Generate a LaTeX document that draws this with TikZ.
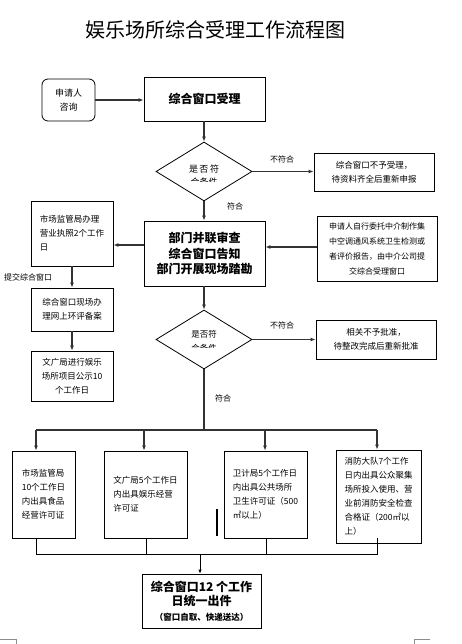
\documentclass[tikz,border=0pt]{standalone}
\usepackage{fontspec}
\setmainfont{Noto Sans CJK SC}
\usetikzlibrary{shapes.geometric,arrows.meta}
\begin{document}
\begin{tikzpicture}[x=1pt,y=-1pt,
  box/.style={draw,line width=0.8pt,inner sep=0pt,align=center},
  sbox/.style={box,font=\fontsize{8.5}{14}\selectfont},
  bbox/.style={box,font=\bfseries\fontsize{12}{15.5}\selectfont},
  conn/.style={draw=black!80,line width=1.1pt},
  arr/.style={conn,-{Latex[length=5pt,width=4pt]}},
  lbl/.style={font=\fontsize{8}{10}\selectfont,inner sep=0pt},
  dia/.style={draw,diamond,line width=0.8pt,inner sep=0pt,minimum width=96pt,minimum height=59pt},
  cornermark/.style={draw=black!45,line width=0.4pt}
]
\useasboundingbox (0,0) rectangle (462,644);
\node (title) at (215,30) {\fontsize{20}{20}\selectfont 娱乐场所综合受理工作流程图};

\node[box,rounded corners=6pt,minimum width=53pt,minimum height=42pt,font=\fontsize{9}{14}\selectfont] (ask) at (68.5,100) {申请人\\咨询};
\node[bbox,minimum width=121pt,minimum height=44pt] (recv) at (204.5,99) {综合窗口受理};
\node[dia] (d1) at (204,171.5) {};
\begin{scope}
  \clip (150,140) rectangle (260,181.5);
  \node[align=center,inner sep=0pt,font=\fontsize{9}{13}\selectfont] (d1t) at (204,176) {是\,否\,符\\合条件};
\end{scope}
\node[sbox,minimum width=120pt,minimum height=38pt] (rej1) at (374,172) {综合窗口不予受理，\\待资料齐全后重新申报};

\node[bbox,minimum width=121pt,minimum height=65pt] (box2) at (204.5,253.5) {部门并联审查\\综合窗口告知\\部门开展现场踏勘};
\node[sbox,align=left,minimum width=82pt,minimum height=65pt] (A) at (72,233.5) {市场监管局办理\\营业执照2个工作\\日};
\node[sbox,minimum width=120pt,minimum height=65pt,font=\fontsize{8}{15}\selectfont] (B) at (377,248.5) {申请人自行委托中介制作集\\中空调通风系统卫生检测或\\者评价报告，由中介公司提\\交综合受理窗口};
\node[sbox,minimum width=82pt,minimum height=43pt] (C) at (72,309.5) {综合窗口现场办\\理网上环评备案};
\node[sbox,minimum width=82pt,minimum height=50pt] (D) at (72,376) {文广局进行娱乐\\场所项目公示10\\个工作日};

\node[dia] (d2) at (204,339.5) {};
\begin{scope}
  \clip (150,300) rectangle (260,347.5);
  \node[align=center,inner sep=0pt,font=\fontsize{8.5}{13.5}\selectfont] (d2t) at (204,341.5) {是否符\\合条件};
\end{scope}
\node[sbox,minimum width=120pt,minimum height=39pt] (rej2) at (376,339.5) {相关不予批准，\\待整改完成后重新批准};

\node[sbox,align=left,minimum width=63pt,minimum height=87pt] (F) at (43.5,494.5) {市场监管局\\10个工作日\\内出具食品\\经营许可证};
\node[sbox,align=left,minimum width=83pt,minimum height=87pt] (G) at (145.5,494.5) {文广局5个工作日\\内出具娱乐经营\\许可证};
\node[sbox,align=left,minimum width=83pt,minimum height=87pt] (H) at (265.5,494.5) {卫计局5个工作日\\内出具公共场所\\卫生许可证（500\\㎡以上）};
\node[sbox,align=left,minimum width=85pt,minimum height=93pt] (I) at (378.5,496.5) {消防大队7个工作\\日内出具公众聚集\\场所投入使用、营\\业前消防安全检查\\合格证（200㎡以\\上）};

\node[box,minimum width=119pt,minimum height=54pt,font=\bfseries\fontsize{12}{14}\selectfont] (J) at (201.5,601) {综合窗口12 个工作\\日统一出件\\[1pt]\fontsize{8.5}{11}\selectfont （窗口自取、快递送达）};

% connectors
\draw[arr] (ask.east) -- (ask.east -| recv.west);
\draw[arr] (recv.south -| d1.north) -- (d1.north);
\draw[arr] (d1.east) -- (d1.east -| rej1.west);
\node[lbl] (l1) at (282,159) {不符合};
\draw[arr] (d1.south) -- (box2.north -| d1.south);
\node[lbl] (l2) at (235,206) {符合};
\draw[arr] (box2.west |- 0,245) -- (A.east |- 0,245);
\draw[arr] (B.west |- 0,247) -- (box2.east |- 0,247);
\draw[arr] (A) -- (C);
\node[lbl,anchor=west] (l3) at (4,277) {提交综合窗口};
\draw[arr] (C) -- (D);
\draw[arr] (box2.south -| d2.north) -- (d2.north);
\draw[arr] (d2.east) -- (d2.east -| rej2.west);
\node[lbl] (l4) at (282,325) {不符合};
\node[lbl] (l5) at (223,398) {符合};

\coordinate (s) at (204,430);
\coordinate (s1) at (36,430);
\coordinate (s2) at (144,430);
\coordinate (s3) at (265,430);
\coordinate (s4) at (377,430);
\draw[conn] (d2.south) -- (s);
\draw[conn] (s1) -- (s4);
\draw[arr] (s1) -- (s1 |- F.north);
\draw[arr] (s2) -- (s2 |- G.north);
\draw[arr] (s3) -- (s3 |- H.north);
\draw[arr] (s4) -- (s4 |- I.north);

\coordinate (b1) at (36,554);
\coordinate (b2) at (146,554);
\coordinate (b3) at (266,554);
\coordinate (b4) at (377,554);
\coordinate (bm) at (200,554);
\draw[line width=0.8pt] (b1 |- F.south) -- (b1) -- (b4) -- (b4 |- 0,538);
\draw[line width=0.8pt] (b2 |- G.south) -- (b2);
\draw[line width=0.8pt] (b3 |- H.south) -- (b3);
\draw[line width=0.8pt,-{Latex[length=4pt,width=3.5pt]}] (bm) -- (bm |- J.north);

\draw[line width=1.5pt] (217,509) -- (217,536);

\draw[cornermark] (0,639) -- (16,639) -- (16,644);
\draw[cornermark] (430,639) -- (414,639) -- (414,644);
\end{tikzpicture}
\end{document}
